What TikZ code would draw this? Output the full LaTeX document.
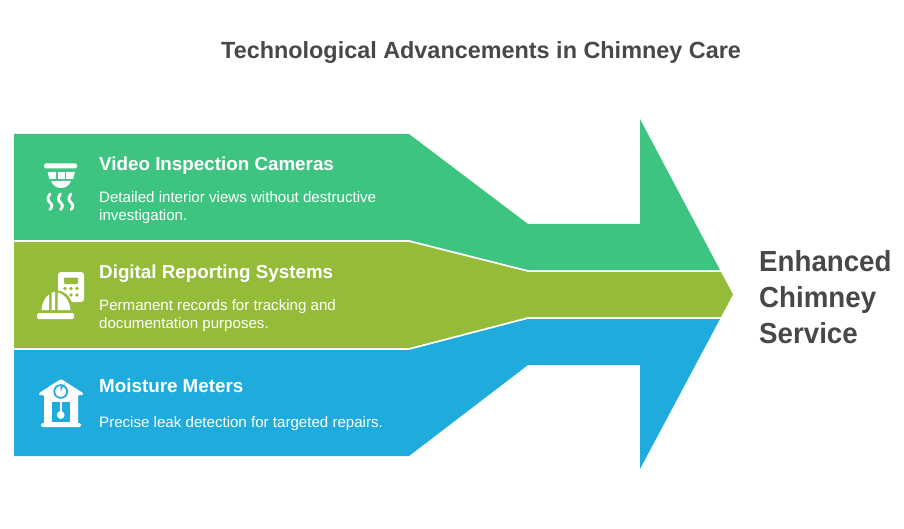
\documentclass[tikz,border=0pt]{standalone}
\usepackage{fontspec}
\setmainfont{Liberation Sans}
\newfontfamily\sidefont[FakeStretch=0.955]{Liberation Sans}
\definecolor{cgreen}{HTML}{3EC481}
\definecolor{colive}{HTML}{95BC39}
\definecolor{cblue}{HTML}{1FABDC}
\definecolor{ctext}{HTML}{484848}
\tikzset{
  titletext/.style={font=\fontsize{23.4}{28}\selectfont\bfseries,text=ctext,anchor=base west,inner sep=0pt},
  headtext/.style={font=\fontsize{18.8}{22}\selectfont\bfseries,text=white,anchor=base west,inner sep=0pt},
  bodytext/.style={font=\fontsize{15.1}{18}\selectfont,text=white,anchor=base west,inner sep=0pt},
  sidetext/.style={font=\sidefont\fontsize{29}{36}\selectfont\bfseries,text=ctext,anchor=base west,inner sep=0pt},
  wave/.style={draw=white,line width=2.8pt,line cap=round}
}
\begin{document}
\begin{tikzpicture}[x=1pt,y=-1pt]
\useasboundingbox (0,0) rectangle (904,529);
\fill[white] (0,0) rectangle (904,529);
% bands
\fill[cgreen] (14,134)--(409,134)--(528,224)--(640,224)--(640,119)--(720,270)--(528,270)--(409,240)--(14,240)--cycle;
\fill[colive] (14,242)--(409,242)--(528,272)--(721,272)--(733,294.5)--(721,317)--(528,317)--(409,348)--(14,348)--cycle;
\fill[cblue] (14,350)--(409,350)--(528,319)--(720,319)--(640,469)--(640,365)--(528,365)--(409,456)--(14,456)--cycle;
% title and labels
\node[titletext] (title) at (221,59) {Technological Advancements in Chimney Care};
\node[headtext] (h1) at (99,171) {Video Inspection Cameras};
\node[bodytext] (b1a) at (99,202.5) {Detailed interior views without destructive};
\node[bodytext] (b1b) at (99,220.5) {investigation.};
\node[headtext] (h2) at (99,278.5) {Digital Reporting Systems};
\node[bodytext] (b2a) at (99,310) {Permanent records for tracking and};
\node[bodytext] (b2b) at (99,328) {documentation purposes.};
\node[headtext] (h3) at (99,392.5) {Moisture Meters};
\node[bodytext] (b3) at (99,427) {Precise leak detection for targeted repairs.};
\node[sidetext] (s1) at (759,271) {Enhanced};
\node[sidetext] (s2) at (759,307) {Chimney};
\node[sidetext] (s3) at (759,343) {Service};
% icon 1: detector
\fill[white,rounded corners=1.5pt] (44,163.5) rectangle (77,168.5);
\fill[white] (47.5,172)--(56,172)--(56,179)--(49.5,179)--cycle;
\fill[white] (57.5,172)--(64.5,172)--(64.5,179)--(57.5,179)--cycle;
\fill[white] (66,172)--(75,172)--(73,179)--(66,179)--cycle;
\fill[white] (51,181)--(71,181) .. controls (69,186) and (65,188) .. (61,188) .. controls (57,188) and (53,186) .. (51,181)--cycle;
\foreach \wx in {50,60.5,71}{
  \draw[wave] (\wx,194) .. controls (\wx-3,198) and (\wx-2.5,200) .. (\wx,202.5) .. controls (\wx+2.5,205) and (\wx+2.5,207) .. (\wx,209.5);
}
% icon 2: calculator and hard hat
\fill[white,rounded corners=3pt] (58,272) rectangle (84,302);
\fill[colive,rounded corners=1pt] (64,277.5) rectangle (78,284);
\fill[colive] (38,312)--(38,300) .. controls (42,293) and (48,290.5) .. (56,290.5) .. controls (66,290.5) and (72,298) .. (75,312)--cycle;
\foreach \dx/\dy in {65/288.5,71/288.5,77/288.5,71/295,77/295}{\fill[colive] (\dx,\dy) circle (1.8);}
\fill[white,rounded corners=1.5pt] (37,313) rectangle (74,319);
\fill[white] (41.5,310) .. controls (42,303) and (45,297) .. (49,294.5)--(49,310)--cycle;
\fill[white] (51.5,310)--(51.5,292.5)--(55,292)--(55,310)--cycle;
\fill[white] (57.5,310)--(57.5,292.5) .. controls (65,294) and (69.5,301) .. (70.5,310)--cycle;
% icon 3: clock house
\fill[white,rounded corners=1pt] (61,379)--(83,393)--(83,395)--(78,395)--(78,424)--(44,424)--(44,395)--(39,395)--(39,393)--cycle;
\fill[white,rounded corners=1.5pt] (41,423) rectangle (81,427);
\draw[cblue,line width=1.8pt,fill=white] (60.7,391.5) circle (6.4);
\fill[cblue] (60.7,391.5)--(60.7,386.5) arc[start angle=-90,end angle=0,radius=5,y radius=-5] --cycle;
\fill[cblue] (52,402) rectangle (70,422);
\draw[white,line width=2.4pt] (60.7,402)--(60.7,414);
\fill[white] (60.7,415) circle (3.9);
\end{tikzpicture}
\end{document}
